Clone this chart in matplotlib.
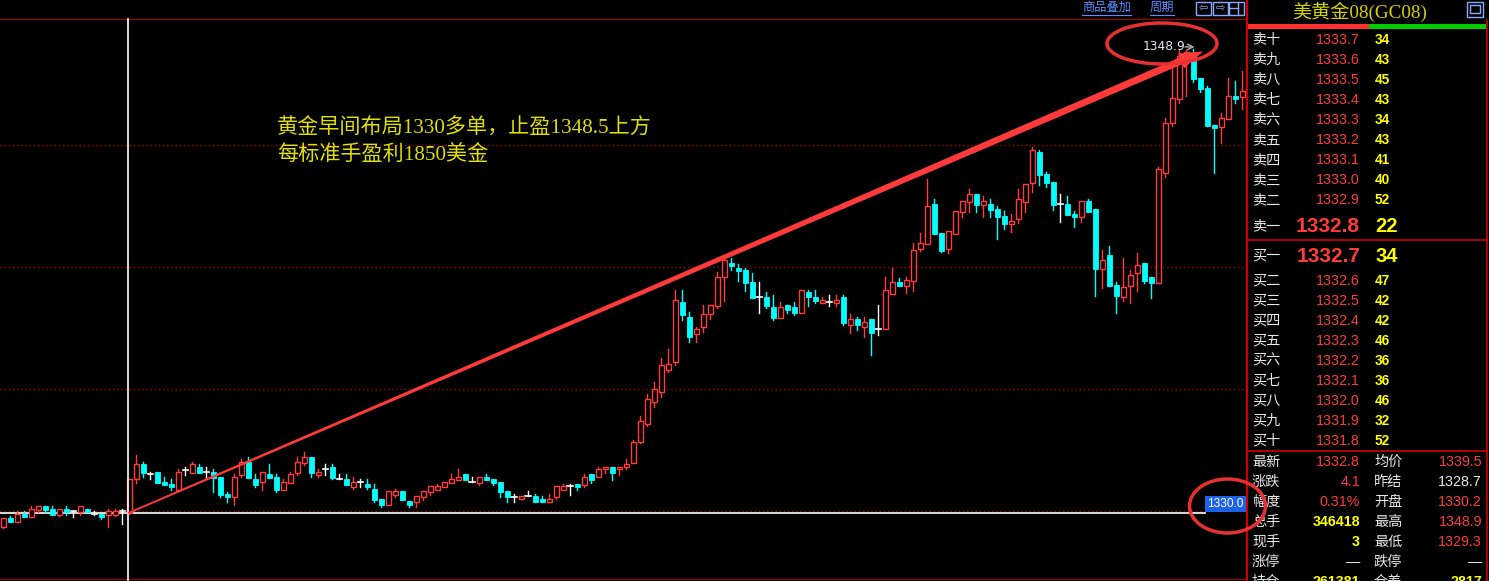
import numpy as np
import matplotlib.pyplot as plt
from matplotlib.patches import Rectangle, Ellipse, Polygon

plt.rcParams['font.family'] = ['Liberation Sans', 'Noto Sans CJK SC', 'DejaVu Sans']

# ---- 1-minute bars, 美黄金08 ----
opens = [
    1329.40, 1329.76, 1329.61, 1329.92, 1329.81, 1330.08, 1330.24, 1330.11, 1329.89, 1330.11,
    1330.03, 1330.00, 1330.11, 1329.92, 1329.92, 1329.89, 1329.89, 1330.03, 1329.95, 1331.33,
    1331.96, 1331.54, 1331.63, 1331.22, 1331.14, 1330.90, 1331.71, 1331.61, 1331.82, 1331.62,
    1331.62, 1331.43, 1330.73, 1330.63, 1331.52, 1332.04, 1331.35, 1331.21, 1331.55, 1331.43,
    1330.90, 1331.20, 1331.61, 1332.01, 1332.24, 1331.52, 1331.74, 1331.84, 1331.33, 1331.35,
    1331.03, 1331.22, 1331.14, 1330.94, 1330.52, 1330.30, 1330.71, 1330.86, 1330.45, 1330.42,
    1330.63, 1330.82, 1330.91, 1331.03, 1331.20, 1331.32, 1331.55, 1331.21, 1331.20, 1331.43,
    1331.35, 1331.22, 1330.86, 1330.63, 1330.52, 1330.64, 1330.64, 1330.52, 1330.42, 1330.63,
    1330.91, 1331.05, 1331.14, 1331.12, 1331.55, 1331.41, 1331.74, 1331.82, 1331.74, 1331.82,
    1332.01, 1332.86, 1333.60, 1334.50, 1334.90, 1335.80, 1336.14, 1338.59, 1337.95, 1337.25,
    1337.54, 1338.07, 1338.42, 1339.58, 1340.18, 1339.97, 1339.89, 1339.39, 1338.76, 1338.78,
    1338.37, 1337.93, 1338.45, 1338.37, 1338.14, 1338.99, 1338.78, 1338.54, 1338.58, 1338.54,
    1338.78, 1337.63, 1337.88, 1337.54, 1337.88, 1337.47, 1337.46, 1338.90, 1339.40, 1339.24,
    1339.44, 1340.75, 1340.95, 1342.57, 1341.39, 1340.75, 1341.36, 1342.26, 1342.67, 1342.98,
    1342.54, 1342.57, 1342.37, 1342.08, 1341.77, 1341.97, 1342.67, 1343.44, 1344.69, 1343.80,
    1343.47, 1342.57, 1342.57, 1342.16, 1342.05, 1342.69, 1342.37, 1339.93, 1340.49, 1339.25,
    1338.76, 1339.24, 1339.74, 1340.15, 1339.58, 1339.36, 1343.85, 1345.86, 1346.87, 1348.65,
    1348.72, 1347.73, 1347.29, 1345.80, 1345.70, 1346.05, 1346.98, 1346.95]
closes = [
    1329.74, 1329.61, 1329.92, 1329.80, 1330.11, 1330.23, 1330.08, 1329.89, 1330.11, 1330.00,
    1330.03, 1330.23, 1330.00, 1329.92, 1329.80, 1330.03, 1330.03, 1330.03, 1331.33, 1331.96,
    1331.61, 1331.54, 1331.20, 1331.12, 1331.03, 1331.62, 1331.71, 1331.95, 1331.61, 1331.62,
    1331.40, 1330.69, 1330.63, 1331.43, 1332.03, 1331.40, 1331.12, 1331.62, 1331.40, 1330.90,
    1331.22, 1331.55, 1332.03, 1332.23, 1331.61, 1331.63, 1331.74, 1331.40, 1331.33, 1331.12,
    1331.22, 1331.22, 1331.03, 1330.49, 1330.30, 1330.84, 1330.84, 1330.49, 1330.30, 1330.64,
    1330.86, 1331.05, 1331.05, 1331.22, 1331.35, 1331.41, 1331.32, 1331.21, 1331.41, 1331.32,
    1331.20, 1330.82, 1330.63, 1330.63, 1330.64, 1330.64, 1330.42, 1330.42, 1330.52, 1331.05,
    1331.05, 1331.05, 1331.03, 1331.41, 1331.32, 1331.74, 1331.82, 1331.61, 1331.82, 1331.96,
    1332.86, 1333.70, 1334.60, 1335.00, 1336.00, 1336.04, 1338.65, 1338.04, 1337.16, 1337.47,
    1338.07, 1338.44, 1339.58, 1340.29, 1340.05, 1339.85, 1339.36, 1338.75, 1338.76, 1338.42,
    1337.93, 1338.37, 1338.24, 1338.14, 1339.06, 1338.76, 1338.63, 1338.65, 1338.58, 1338.65,
    1337.73, 1337.88, 1337.63, 1337.76, 1337.32, 1337.47, 1339.06, 1339.39, 1339.24, 1339.47,
    1340.69, 1340.97, 1342.49, 1341.36, 1340.67, 1341.47, 1342.29, 1342.69, 1342.98, 1342.54,
    1342.69, 1342.33, 1342.05, 1341.77, 1341.88, 1342.76, 1343.39, 1344.78, 1343.76, 1343.44,
    1342.53, 1342.57, 1342.12, 1342.05, 1342.69, 1342.26, 1339.93, 1340.27, 1339.24, 1338.83,
    1339.17, 1339.67, 1340.08, 1339.44, 1339.36, 1343.99, 1345.86, 1346.88, 1348.61, 1348.79,
    1347.66, 1347.27, 1345.76, 1345.69, 1346.07, 1346.98, 1346.84, 1347.18]
highs = [
    1329.74, 1329.84, 1330.03, 1330.03, 1330.24, 1330.23, 1330.24, 1330.24, 1330.11, 1330.24,
    1330.05, 1330.23, 1330.11, 1330.04, 1329.92, 1330.11, 1330.11, 1330.11, 1331.33, 1332.33,
    1332.04, 1331.65, 1331.63, 1331.41, 1331.33, 1331.74, 1331.82, 1332.04, 1331.96, 1331.82,
    1331.74, 1331.43, 1330.83, 1331.55, 1332.16, 1332.24, 1331.55, 1331.62, 1331.96, 1331.55,
    1331.35, 1331.63, 1332.23, 1332.45, 1332.24, 1331.74, 1331.96, 1331.96, 1331.55, 1331.55,
    1331.41, 1331.35, 1331.35, 1331.14, 1330.52, 1330.84, 1330.92, 1330.86, 1330.45, 1330.64,
    1330.86, 1331.05, 1331.14, 1331.22, 1331.55, 1331.76, 1331.55, 1331.43, 1331.41, 1331.55,
    1331.35, 1331.22, 1330.86, 1330.73, 1330.64, 1330.86, 1330.73, 1330.64, 1330.73, 1331.05,
    1331.14, 1331.14, 1331.14, 1331.55, 1331.55, 1331.82, 1331.82, 1331.82, 1331.82, 1332.16,
    1332.95, 1333.90, 1334.80, 1335.30, 1336.30, 1336.65, 1339.06, 1339.06, 1338.18, 1337.56,
    1338.45, 1338.44, 1339.78, 1340.42, 1340.37, 1340.11, 1339.97, 1339.77, 1339.40, 1338.98,
    1338.86, 1338.57, 1338.45, 1338.57, 1339.06, 1339.06, 1339.06, 1338.76, 1338.86, 1338.85,
    1338.86, 1338.08, 1337.97, 1337.97, 1337.88, 1338.45, 1339.60, 1339.97, 1339.55, 1339.61,
    1340.97, 1341.38, 1343.58, 1342.76, 1341.39, 1341.47, 1342.29, 1342.69, 1343.18, 1342.98,
    1342.90, 1342.78, 1342.49, 1342.29, 1342.16, 1343.18, 1343.39, 1344.91, 1344.78, 1343.88,
    1343.47, 1342.98, 1342.90, 1342.29, 1342.69, 1342.78, 1342.37, 1340.69, 1340.86, 1339.37,
    1340.37, 1339.88, 1340.56, 1340.15, 1339.58, 1344.07, 1346.07, 1348.11, 1348.86, 1348.85,
    1348.90, 1347.73, 1347.39, 1345.80, 1346.27, 1347.70, 1347.60, 1348.00]
lows = [
    1329.33, 1329.61, 1329.61, 1329.80, 1329.81, 1330.01, 1330.00, 1329.89, 1329.82, 1329.88,
    1329.81, 1329.89, 1330.00, 1329.89, 1329.73, 1329.40, 1329.82, 1329.51, 1329.93, 1331.20,
    1331.41, 1331.33, 1331.20, 1331.12, 1330.90, 1330.90, 1331.52, 1331.61, 1331.61, 1331.33,
    1330.82, 1330.63, 1330.42, 1330.30, 1331.41, 1331.40, 1331.03, 1330.90, 1331.40, 1330.82,
    1330.90, 1331.20, 1331.52, 1331.91, 1331.41, 1331.41, 1331.52, 1331.33, 1331.33, 1331.12,
    1330.92, 1331.03, 1330.92, 1330.42, 1330.22, 1330.30, 1330.63, 1330.49, 1330.22, 1330.22,
    1330.49, 1330.69, 1330.91, 1331.03, 1331.20, 1331.32, 1331.32, 1331.21, 1331.12, 1331.32,
    1331.12, 1330.63, 1330.42, 1330.42, 1330.52, 1330.64, 1330.42, 1330.42, 1330.42, 1330.52,
    1330.91, 1330.71, 1330.91, 1331.03, 1331.20, 1331.41, 1331.61, 1331.32, 1331.52, 1331.74,
    1332.01, 1332.80, 1333.50, 1334.30, 1334.70, 1335.70, 1336.00, 1337.84, 1336.95, 1336.95,
    1337.33, 1337.86, 1338.34, 1338.63, 1339.88, 1339.44, 1339.03, 1338.75, 1338.14, 1338.34,
    1337.84, 1337.93, 1338.14, 1338.04, 1338.14, 1338.41, 1338.55, 1338.54, 1338.41, 1338.41,
    1337.63, 1337.32, 1337.43, 1337.16, 1336.41, 1337.24, 1337.46, 1338.90, 1339.24, 1338.95,
    1339.03, 1340.67, 1340.95, 1341.36, 1340.60, 1340.56, 1341.36, 1342.05, 1342.26, 1342.26,
    1342.05, 1342.05, 1341.16, 1341.56, 1341.44, 1341.78, 1342.26, 1343.07, 1343.35, 1343.28,
    1342.33, 1341.85, 1342.12, 1341.65, 1341.85, 1342.26, 1338.83, 1339.16, 1339.24, 1338.13,
    1338.61, 1338.54, 1339.03, 1339.36, 1338.75, 1339.36, 1343.66, 1345.77, 1346.68, 1346.99,
    1347.56, 1347.16, 1345.76, 1343.82, 1345.08, 1346.05, 1346.68, 1346.46]

grid_levels = [1330, 1335, 1340, 1345]
cross_bar, cross_price = 17.8, 1329.97
arrow_start = (17.8, 1329.95)
arrow_tip = (171.4, 1348.8)
high_bar, high_price = 170, 1348.9

note_lines = ['黄金早间布局1330多单，止盈1348.5上方', '每标准手盈利1850美金']
title = '美黄金08(GC08)'
sell_labels = ['卖十', '卖九', '卖八', '卖七', '卖六', '卖五', '卖四', '卖三', '卖二', '卖一']
sell_prices = [1333.7, 1333.6, 1333.5, 1333.4, 1333.3, 1333.2, 1333.1, 1333.0, 1332.9, 1332.8]
sell_vols = [34, 43, 45, 43, 34, 43, 41, 40, 52, 22]
buy_labels = ['买一', '买二', '买三', '买四', '买五', '买六', '买七', '买八', '买九', '买十']
buy_prices = [1332.7, 1332.6, 1332.5, 1332.4, 1332.3, 1332.2, 1332.1, 1332.0, 1331.9, 1331.8]
buy_vols = [34, 47, 42, 42, 46, 36, 36, 46, 32, 52]
stat_left = [('最新', '1332.8', 'r'), ('涨跌', '4.1', 'r'), ('幅度', '0.31%', 'r'),
             ('总手', '346418', 'y'), ('现手', '3', 'y'), ('涨停', '—', 'w'), ('持仓', '261381', 'y')]
stat_right = [('均价', '1339.5', 'r'), ('昨结', '1328.7', 'w'), ('开盘', '1330.2', 'r'),
              ('最高', '1348.9', 'r'), ('最低', '1329.3', 'r'), ('跌停', '—', 'w'), ('仓差', '2817', 'y')]

RED, CYAN, YEL, WHT = '#ff3b3b', '#00ffff', '#ffff00', '#e8e8e8'
cmap = {'r': RED, 'y': YEL, 'w': WHT}

# pixel layout
W, H = 1489, 581
X0, DX = 3.3, 7.0
Y0, P0, PPU = 512.0, 1330.0, 24.5
TOP, BOT, RIGHT = 18.5, 578.5, 1246

def px(i): return X0 + DX * i
def py(p): return Y0 - (p - P0) * PPU

fig = plt.figure(figsize=(W / 100, H / 100), dpi=100, facecolor='black')
ax = fig.add_axes([0, (H - BOT) / H, RIGHT / W, (BOT - TOP) / H])
ax.set_facecolor('black')
ax.set_xlim(-X0 / DX, (RIGHT - X0) / DX)
ax.set_ylim(P0 - (BOT - Y0) / PPU, P0 + (Y0 - TOP) / PPU)
ax.set_xticks([])
ax.set_yticks([])
for side, sp in ax.spines.items():
    sp.set_visible(side in ('top', 'bottom'))
    sp.set_color('#a00000')

for p in grid_levels:
    ax.axhline(p + 0.04 * (p == 1330), color='#a00000', lw=1, ls=(0, (1, 2)), zorder=1)

ax.plot([(1205 - X0) / DX, ax.get_xlim()[0]][::-1], [cross_price] * 2, color='white',
        lw=1.2, zorder=2)

for i, (o, h, l, c) in enumerate(zip(opens, highs, lows, closes)):
    lo, hi = min(o, c), max(o, c)
    if c > o:
        ax.plot([i, i], [hi, h], color=RED, lw=1, zorder=3)
        ax.plot([i, i], [l, lo], color=RED, lw=1, zorder=3)
        ax.add_patch(Rectangle((i - 0.34, lo), 0.68, hi - lo, facecolor='black',
                               edgecolor=RED, lw=1, zorder=4))
    elif c < o:
        ax.plot([i, i], [l, h], color=CYAN, lw=1, zorder=3)
        ax.add_patch(Rectangle((i - 0.36, lo), 0.72, max(hi - lo, 0.03), facecolor=CYAN,
                               edgecolor=CYAN, lw=0.6, zorder=4))
    else:
        ax.plot([i, i], [l, h], color='white', lw=1, zorder=3)
        ax.plot([i - 0.4, i + 0.4], [o, o], color='white', lw=1.2, zorder=3)

# overlay in pixel coordinates
ov = fig.add_axes([0, 0, 1, 1], zorder=5)
ov.set_xlim(0, W)
ov.set_ylim(H, 0)
ov.axis('off')
ov.patch.set_alpha(0)

# crosshair vertical (full height, as in the terminal)
ov.plot([px(cross_bar)] * 2, [TOP, H], color='white', lw=1.2, zorder=5)

# tapered arrow
s = np.array([px(arrow_start[0]), py(arrow_start[1])])
t = np.array([px(arrow_tip[0]), py(arrow_tip[1])])
u = (t - s) / np.hypot(*(t - s))
n = np.array([-u[1], u[0]])
b = t - 24 * u
pts = [s + 0.9 * n, b + 3.6 * n, b + 8 * n, t, b - 8 * n, b - 3.6 * n, s - 0.9 * n]
ov.add_patch(Polygon(pts, closed=True, facecolor='#ff3a3a', edgecolor='none', zorder=6))

# high label
hx, hy = px(high_bar), py(high_price)
ov.text(hx - 51, hy - 2, f'{high_price:.1f}', color='#e4e8f0', fontsize=8.8,
        family='DejaVu Sans', ha='left', va='center', zorder=7)
ov.annotate('', xy=(hx + 4, hy - 2), xytext=(hx - 11, hy - 2),
            arrowprops=dict(arrowstyle='->', color='#b0b0b0', lw=1), zorder=7)
ov.add_patch(Ellipse((1162, 43.5), 110, 41, fill=False, edgecolor='#e83030', lw=2.5, zorder=7))

# crosshair price box
ov.add_patch(Rectangle((1205, 496), 41, 16, facecolor='#1d62ea', edgecolor='none', zorder=6))
ov.text(1225.5, 504, f'{cross_price:.1f}', color='white', fontsize=8.6, ha='center',
        va='center', zorder=7)
ov.add_patch(Ellipse((1227.5, 506), 76, 54, fill=False, edgecolor='#e83030', lw=2.5, zorder=8))

# note text
for k, line in enumerate(note_lines):
    ov.text(277, 129 + 26 * k, line, color='#e0e000', fontsize=15.2,
            family=['Liberation Serif', 'Noto Sans CJK SC'], ha='left', va='center', zorder=7)

# toolbar
ov.text(1082, 8, '商品叠加', color='#5b8cff', fontsize=8.8, ha='left', va='center')
ov.plot([1082, 1131], [15, 15], color='#5b8cff', lw=0.8)
ov.text(1150, 8, '周期', color='#5b8cff', fontsize=8.8, ha='left', va='center')
ov.plot([1150, 1174], [15, 15], color='#5b8cff', lw=0.8)
for bx, sym in zip([1196, 1212.5, 1229], ['⇦', '⇨', '']):
    ov.add_patch(Rectangle((bx, 1.5), 15, 13, fill=False, edgecolor='#8aaaff', lw=1))
    if sym:
        ov.text(bx + 7.5, 8, sym, color='#8aaaff', fontsize=8, family='DejaVu Sans',
                ha='center', va='center')
ov.plot([1230, 1238], [8, 8], color='#8aaaff', lw=1)
ov.plot([1238, 1238], [2, 14], color='#8aaaff', lw=1)

# right panel frame
ov.plot([1246.5, 1246.5], [0, H], color='#d00000', lw=1.5)
ov.plot([1486.5, 1486.5], [20, H], color='#d00000', lw=1.2)
for yy in (240, 451):
    ov.plot([1247, 1487], [yy, yy], color='#d00000', lw=1.2)
ov.add_patch(Rectangle((1248, 24), 121, 5, facecolor='#ff3030', edgecolor='none'))
ov.add_patch(Rectangle((1369, 24), 117, 5, facecolor='#00cc00', edgecolor='none'))
ov.text(1360, 12, title, color='#d2d200', fontsize=13.8,
        family=['Liberation Serif', 'Noto Sans CJK SC'], ha='center', va='center')
ov.add_patch(Rectangle((1467, 2), 16, 15, fill=False, edgecolor='#8aaaff', lw=1))
ov.add_patch(Rectangle((1470, 5), 10, 8, fill=False, edgecolor='#8aaaff', lw=1))

# order book
rows_y = [40 + 20 * k for k in range(9)] + [226]
for yy, lab, pr, vol in zip(rows_y, sell_labels, sell_prices, sell_vols):
    big = lab == '卖一'
    ov.text(1252, yy, lab, color=WHT, fontsize=10.2, ha='left', va='center')
    ov.text(1360, yy, f'{pr:.1f}', color=RED, fontsize=15 if big else 10.3,
            weight='bold' if big else 'normal', ha='right', va='center')
    ov.text(1375, yy, str(vol), color=YEL, fontsize=14.5 if big else 9.8,
            weight='bold', ha='left', va='center')
rows_y = [256] + [281 + 20 * k for k in range(9)]
for yy, lab, pr, vol in zip(rows_y, buy_labels, buy_prices, buy_vols):
    big = lab == '买一'
    ov.text(1252, yy, lab, color=WHT, fontsize=10.2, ha='left', va='center')
    ov.text(1360, yy, f'{pr:.1f}', color=RED, fontsize=15 if big else 10.3,
            weight='bold' if big else 'normal', ha='right', va='center')
    ov.text(1375, yy, str(vol), color=YEL, fontsize=14.5 if big else 9.8,
            weight='bold', ha='left', va='center')

# quote stats
for k, ((l1, v1, c1), (l2, v2, c2)) in enumerate(zip(stat_left, stat_right)):
    yy = 462 + 20 * k
    ov.text(1252, yy, l1, color=WHT, fontsize=10.2, ha='left', va='center')
    ov.text(1360, yy, v1, color=cmap[c1], fontsize=10.3, ha='right', va='center',
            weight='bold' if c1 == 'y' else 'normal')
    ov.text(1374, yy, l2, color=WHT, fontsize=10.2, ha='left', va='center')
    ov.text(1482, yy, v2, color=cmap[c2], fontsize=10.3, ha='right', va='center',
            weight='bold' if c2 == 'y' else 'normal')

fig.savefig('out.png', dpi=100, facecolor='black')
